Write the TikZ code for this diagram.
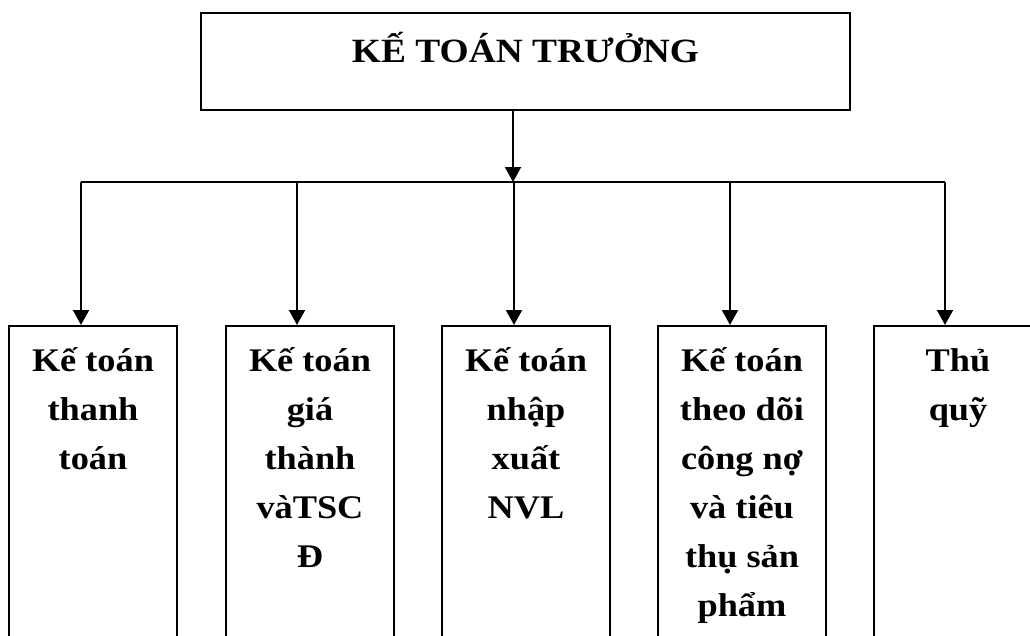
\documentclass[tikz,border=0pt]{standalone}
\usepackage{fontspec}
\setmainfont{Liberation Serif}[FakeStretch=1.1]
\usetikzlibrary{arrows.meta}
\begin{document}
\begin{tikzpicture}[x=1pt,y=-1pt,
  frame/.style={draw,line width=2pt,rectangle,inner sep=0pt},
  unitbox/.style={frame,minimum width=168pt,minimum height=375pt,anchor=north},
  label/.style={inner sep=0pt,anchor=base,font=\bfseries\fontsize{33}{49}\selectfont},
  link/.style={line width=2pt},
  feed/.style={link,-{Triangle[length=15pt,width=16pt]}}]
  \useasboundingbox (0,0) rectangle (1030,635);
  \fill[white] (0,0) rectangle (1030,635);
  \clip (0,0) rectangle (1030,635);

  % head of the department
  \node[frame,minimum width=649pt,minimum height=97pt] (top) at (525.5,61.5) {};
  \node[inner sep=0pt,anchor=base,font=\bfseries\fontsize{34}{40}\selectfont] (title) at (525.5,62) {KẾ TOÁN TRƯỞNG};

  % five sections
  \node[unitbox] (b1) at (93,325) {};
  \node[unitbox] (b2) at (310,325) {};
  \node[unitbox] (b3) at (526,325) {};
  \node[unitbox] (b4) at (742,325) {};
  \node[unitbox] (b5) at (958,325) {};

  \node[label] (t1) at (93,371) {\parbox[t]{160pt}{\centering Kế toán\\thanh\\toán}};
  \node[label] (t2) at (310,371) {\parbox[t]{160pt}{\centering Kế toán\\giá\\thành\\vàTSC\\Đ}};
  \node[label] (t3) at (526,371) {\parbox[t]{160pt}{\centering Kế toán\\nhập\\xuất\\NVL}};
  \node[label] (t4) at (742,371) {\parbox[t]{166pt}{\centering Kế toán\\theo dõi\\công nợ\\và tiêu\\thụ sản\\phẩm}};
  \node[label] (t5) at (958,371) {\parbox[t]{160pt}{\centering Thủ\\quỹ}};

  % distribution bus
  \coordinate (hub) at (513,182);
  \coordinate (d1) at (81,182);
  \coordinate (d2) at (297,182);
  \coordinate (d3) at (514,182);
  \coordinate (d4) at (730,182);
  \coordinate (d5) at (945,182);

  \draw[feed] (top.south -| hub) -- (hub);
  \draw[link] (d1) -- (d5);
  \foreach \i in {1,...,5}
    \draw[feed] (d\i) -- (d\i |- b\i.north);
\end{tikzpicture}
\end{document}
